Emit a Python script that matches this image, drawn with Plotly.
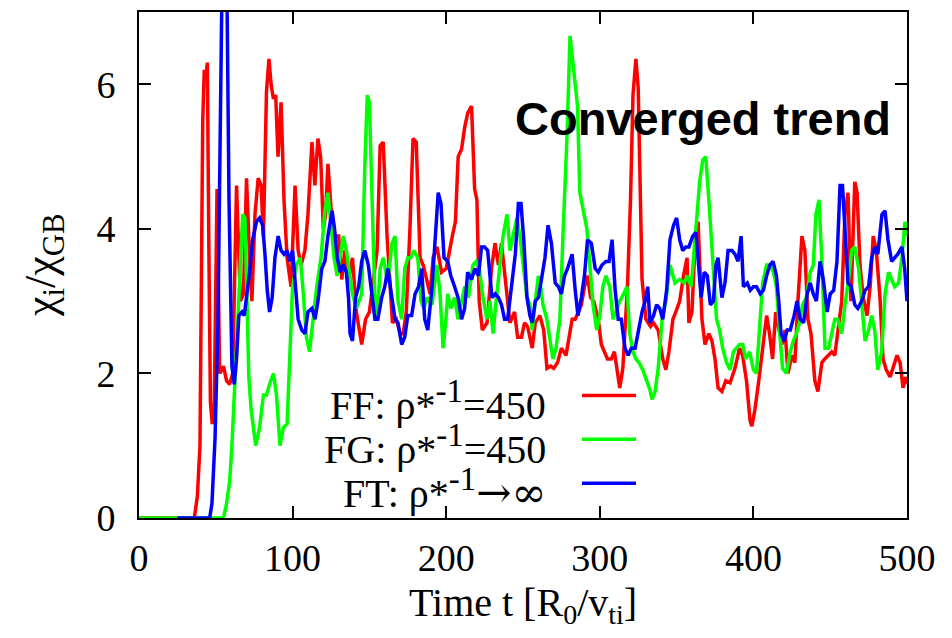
import plotly.graph_objects as go

# ---------------- data ----------------
ff_t = [0, 36, 38, 39.7, 41.5, 42.5, 43.5, 44.5, 45.5, 46.5, 47.7, 49, 50.8, 52.5, 55, 57, 59, 61, 63.5, 66, 68, 70,
        72, 73.5, 75.5, 77.6, 79.5, 81, 83, 84.6, 86, 87.5, 89, 90.5, 92.5, 94.4, 96.4, 99, 101.6, 103.6, 105.5, 108,
        110, 112.6, 114.5, 116.5, 118.3, 120, 121.5, 123, 125, 127.6, 130, 132, 134, 136.5, 139, 141.5, 145, 147.5,
        150, 152.5, 155, 157, 159, 161.5, 165, 167.5, 170, 172, 174, 176.4, 178.4, 180.5, 183, 185, 187.5, 189.5,
        191.5, 194, 197, 200, 204, 206, 207.8, 210, 212, 214, 216.5, 218.5, 220, 221.5, 223.5, 226.6, 229.5, 231.8,
        234, 236, 238, 241.5, 244.5, 246.5, 249, 251, 253, 256, 258, 261, 263.5, 265.6, 268, 270, 272.5, 275, 278,
        282, 284, 286, 288, 290, 292, 294, 296, 299, 301, 303, 305, 307.5, 309.5, 313, 315, 318, 320, 321.6, 323.5,
        325, 326, 327.5, 330, 333, 335, 338, 341, 343, 345, 347.6, 349.5, 352, 354.5, 356.8, 358, 360, 362, 364,
        366.5, 368.5, 371, 373, 375, 377, 379.5, 382, 384.8, 388, 391, 393, 395.5, 397.8, 399, 401, 403.5, 406,
        408.6, 410.5, 412.5, 414.5, 416.5, 418.5, 420.6, 422.5, 425, 427, 429, 431.6, 433.5, 435.5, 437.5, 440, 442,
        444.6, 446.5, 449, 451, 453, 455, 457.5, 459.6, 461.6, 463.5, 466, 467.5, 469.4, 471.5, 474, 476, 478, 480,
        482.4, 484.4, 486.5, 489, 491, 493.5, 495.5, 497.4, 499, 500]
ff_v = [0, 0, 0.3, 1.0, 5.5, 6.2, 6.1, 6.3, 3.7, 1.6, 1.3, 1.6, 4.55, 2.0, 2.1, 1.9, 1.85, 2.0, 4.6, 3.0, 3.1, 4.7,
        3.6, 3.0, 4.2, 4.7, 4.6, 3.9, 5.9, 6.35, 6.0, 5.8, 5.85, 5.0, 5.75, 4.4, 3.6, 3.2, 4.6, 3.7, 3.5, 3.7,
        4.2, 5.2, 4.6, 5.25, 4.98, 4.0, 4.2, 4.9, 4.3, 3.9, 3.9, 3.3, 3.7, 3.3, 3.6, 2.85, 2.4, 2.75,
        2.85, 3.3, 3.7, 5.15, 5.2, 3.9, 2.7, 2.75, 2.55, 2.55, 2.85, 4.0, 5.25, 5.2, 3.6, 3.5, 3.3, 3.1,
        3.6, 3.75, 3.4, 3.45, 3.9, 4.1, 5.0, 5.1, 5.4, 5.6, 5.7, 4.55, 4.4, 3.0, 2.6, 2.7, 3.45, 3.8,
        3.5, 3.8, 3.4, 2.7, 2.85, 2.5, 2.5, 2.7, 2.65, 2.35, 2.7, 2.8, 2.6, 2.07, 2.1, 2.07, 2.15, 2.35, 2.25,
        2.75, 2.75, 2.85, 2.95, 3.2, 3.35, 3.05, 3.0, 2.75, 2.4, 2.3, 2.2, 2.2, 2.3, 1.8, 2.07, 3.2, 4.4, 5.85, 6.35,
        5.95, 4.8, 3.3, 2.75, 2.65, 2.7, 2.6, 2.2, 2.05, 2.3, 2.75, 2.85, 3.0, 3.35, 3.6, 2.7, 2.85, 3.8, 4.1,
        2.75, 2.4, 2.55, 2.45, 2.2, 1.8, 1.75, 1.9, 1.87, 2.07, 2.35, 2.25, 1.9, 1.35, 1.27, 1.5, 1.9, 2.35,
        2.8, 2.55, 2.2, 2.85, 2.6, 2.4, 2.6, 2.0, 2.25, 2.15, 3.0, 3.9, 3.7, 2.75, 2.55, 1.9, 1.75,
        2.15, 2.2, 2.25, 2.3, 2.25, 2.55, 3.0, 4.2, 4.5, 3.0, 4.65, 4.5, 3.5, 3.05, 2.8, 3.2, 3.9, 3.7,
        3.05, 2.2, 2.05, 1.95, 2.1, 2.25, 2.15, 1.8, 1.95, 1.85]

fg_t = [0, 55, 57, 59, 60.5, 62.5, 64.5, 66, 67.5, 69, 70, 71.5, 73, 75, 76, 78.5, 81, 83, 85, 87.6, 89.5, 91.8, 94,
        96.4, 98, 100, 102.5, 105, 107, 109, 111, 113, 115.7, 118.5, 121, 123, 125, 127, 129, 131, 133, 135, 137,
        139, 141.5, 145, 147, 148.6, 150, 152, 153.5, 155, 157, 159, 162, 164.7, 166.7, 168.6, 171, 173, 175, 177,
        179, 181.5, 183.6, 185.5, 187.5, 190.8, 194, 196, 198, 200, 201, 203, 205.5, 207.7, 210, 212, 214.5, 217.4,
        219.5, 221.5, 224, 226.5, 228.5, 230.5, 232.5, 235, 237, 239.6, 241.5, 243.5, 246, 248, 250, 252.6, 254.5,
        256, 258, 260, 261.5, 263, 265.5, 267.6, 269.5, 271.5, 274, 276, 278.6, 280.6, 282, 284, 285.5, 287, 289,
        291.6, 293.5, 295.6, 298, 300, 302, 304, 306.5, 308.6, 310.5, 313, 315.5, 317.7, 319.5, 321.6, 323.5, 325.5,
        328, 330.5, 332.7, 334, 336, 338, 340.6, 343, 345.7, 349, 352, 355, 357, 359.5, 362, 365, 367, 369, 371,
        373.7, 376, 378, 380, 382.5, 384.8, 387, 389, 391, 393, 395, 397.5, 400, 402, 404, 406, 408.6, 411, 413,
        415, 417, 419, 421.5, 424, 426, 428, 430, 432, 434.5, 437, 439, 440.7, 442.7, 444.7, 446.6, 449, 451, 453,
        455, 457.5, 459.6, 462, 464, 466, 468.5, 470.7, 472.7, 475, 477, 479, 481, 483.5, 485.7, 488, 490, 492,
        494.5, 496.7, 498.7, 500]
fg_v = [0, 0, 0.2, 0.5, 1.0, 2.0, 2.8, 3.5, 4.2, 4.15, 3.3, 1.95, 1.5, 1.2, 1.0, 1.25, 1.7, 1.7, 1.85, 2.0, 1.7, 1.0, 1.25,
        1.3, 2.05, 3.2, 3.5, 3.6, 3.1, 2.5, 2.3, 2.7, 3.2, 3.6, 4.25, 4.5, 4.1, 3.6, 3.35, 3.6, 3.9, 3.7, 3.35,
        3.1, 2.9, 3.1, 4.85, 5.85, 5.75, 4.4, 3.1, 2.75, 3.45, 3.6, 3.25, 3.8, 3.9, 3.0, 2.75, 3.45, 3.6, 3.6,
        3.7, 3.6, 3.0, 2.9, 3.05, 2.95, 3.5, 3.1, 2.35, 2.8, 3.1, 2.9, 3.05, 2.75, 3.0, 3.2, 3.05, 3.5,
        3.55, 3.45, 3.05, 2.75, 3.0, 2.55, 3.0, 3.5, 3.9, 4.2, 3.7, 3.9, 4.15, 3.9, 3.5, 3.05, 2.95,
        2.6, 3.0, 3.35, 3.2, 2.95, 2.75, 2.45, 2.2, 2.35, 2.75, 3.9, 5.25, 6.67, 6.4, 6.1, 5.7, 4.5, 4.3,
        4.0, 3.5, 2.95, 2.6, 2.8, 3.2, 3.35, 3.2, 2.75, 2.85, 3.0, 3.1, 3.2, 2.55, 2.3, 2.2, 2.15,
        2.05, 1.9, 1.77, 1.64, 1.75, 2.07, 2.75, 3.0, 3.5, 3.25, 3.3, 3.25, 3.35, 3.2, 3.85, 4.65, 4.95, 5.0, 4.4,
        3.4, 2.75, 2.6, 2.35, 2.15, 2.05, 2.3, 2.35, 2.4, 2.4, 2.2, 2.3, 2.05, 2.0, 2.55, 3.25, 3.5, 3.5, 3.4,
        3.2, 2.6, 2.07, 2.0, 2.3, 2.45, 2.55, 2.7, 2.95, 3.05, 3.4, 3.5, 4.2, 4.4, 3.5, 2.35, 2.35, 2.55, 2.75,
        2.75, 2.55, 2.95, 3.3, 3.7, 3.75, 3.45, 2.95, 2.45, 2.6, 2.8, 2.6, 2.05, 2.3, 3.1, 3.4, 3.3, 3.2,
        3.25, 3.6, 4.1, 3.9]

ft_t = [25, 46, 47.5, 49.5, 51.4, 52.7, 54, 55.5, 57.3, 58.6, 60.5, 62, 63.5, 65, 67, 68.5, 70, 72, 74, 76.5, 78.5,
        80.5, 82, 83.5, 85, 86.7, 88.5, 90.6, 92.5, 94.4, 96.4, 98, 100, 101.6, 103.6, 106, 108, 110, 112.6, 114.6,
        116.5, 119, 121, 123, 125.7, 127.3, 129, 131, 133, 135, 136.4, 137.4, 139, 141, 143, 145, 147, 149.3, 151.7,
        153.6, 155.5, 158, 160, 162, 164.3, 166.7, 168.6, 171, 173, 175, 177.5, 179.7, 182, 184, 186, 188, 190.8,
        192.7, 194.8, 196.6, 198.6, 201, 203, 205.5, 207.7, 210, 212, 214, 216.5, 218.7, 221, 223, 225, 227, 229.8,
        232, 234, 236, 238, 240, 242.5, 245, 247, 248.7, 250.5, 252.6, 254.5, 256, 258, 260, 262, 264.3, 266.3,
        268.5, 271, 273, 275, 277, 279, 282, 284, 285.8, 288, 290, 292, 294.5, 297, 299, 301.4, 304, 306, 308, 310,
        312, 314, 316.4, 318.5, 320.5, 323, 325, 327.5, 329.5, 331.2, 332.7, 335, 337, 339, 341, 343.5, 345.7, 348,
        350, 352, 354, 356, 358, 360.5, 362.6, 364, 366, 368, 370, 372, 374, 375.6, 377, 379.5, 381.5, 383.5, 386,
        388, 390, 392, 393.5, 396, 398, 400, 402, 404.5, 406.5, 408.6, 410.7, 412.8, 415, 416.5, 418, 420, 422,
        424, 426.5, 428.4, 430.5, 432.7, 435, 437, 439, 441, 443.4, 445.5, 448, 450, 452.3, 454.4, 456.4, 458,
        459.6, 461.6, 463.7, 466, 468, 470.5, 472.7, 475, 477, 479, 481, 483.7, 485.7, 487.6, 490, 492, 494,
        496.7, 498.5, 500]
ft_v = [0, 0, 0.2, 1.1, 2.7, 5.0, 7.3, 8.5, 7.2, 4.4, 2.1, 1.85, 2.2, 2.8, 2.85, 2.8, 3.05, 3.4, 3.85, 4.1, 4.15,
        4.05, 3.65, 3.15, 2.85, 3.05, 3.6, 3.9, 3.7, 3.65, 3.7, 3.55, 3.7, 3.2, 2.75, 2.6, 2.55, 2.85, 2.9, 2.75,
        3.0, 3.45, 3.55, 3.9, 4.25, 4.0, 3.6, 3.4, 3.5, 3.4, 3.05, 2.55, 2.45, 3.05, 3.2, 3.55, 3.7, 3.5, 3.05,
        2.75, 2.75, 3.05, 3.2, 3.45, 3.1, 2.75, 2.7, 2.4, 2.5, 2.8, 2.8, 3.1, 3.2, 3.45, 2.75, 2.6, 3.2,
        3.85, 4.5, 4.35, 3.6, 3.55, 3.35, 3.2, 3.05, 2.75, 2.9, 3.4, 3.3, 3.45, 3.35, 3.75, 3.75, 3.7, 3.05,
        3.1, 3.05, 2.95, 2.75, 2.75, 3.2, 3.65, 4.35, 4.35, 3.85, 3.05, 2.8, 2.7, 3.0, 3.05, 3.3, 3.6, 4.05,
        3.8, 3.25, 3.2, 3.1, 3.35, 3.45, 3.65, 3.15, 2.8, 3.05, 3.35, 3.85, 3.8, 3.45, 3.4, 3.5, 3.55, 3.55, 3.85, 3.15,
        2.75, 2.75, 2.35, 2.25, 2.35, 2.35, 2.6, 2.85, 3.0, 3.2, 2.7, 2.8, 2.95, 2.9, 2.75, 3.15, 3.85, 4.05,
        4.15, 3.85, 3.7, 3.75, 3.75, 3.9, 3.95, 3.6, 3.05, 3.4, 3.35, 2.95, 3.0, 3.5, 3.6, 3.05, 3.25, 3.7, 3.7,
        3.65, 3.55, 3.9, 3.2, 3.25, 3.15, 3.2, 3.2, 3.1, 3.15, 3.35, 3.5, 3.55, 3.35, 3.0, 2.55, 2.45, 2.6,
        2.6, 2.8, 3.0, 2.75, 2.7, 3.1, 3.25, 3.1, 3.0, 3.55, 3.3, 2.85, 3.1, 3.15, 3.55, 4.6, 4.6,
        3.9, 3.25, 3.2, 2.95, 2.9, 3.0, 3.15, 3.2, 3.6, 3.75, 3.65, 4.2, 4.25, 3.85, 3.55, 3.6, 3.65,
        3.75, 3.45, 3.0]

x_ticks = [0, 100, 200, 300, 400, 500]
y_ticks = [0, 2, 4, 6]

SUP = '<sup><span style="font-size:33px">-1</span></sup>'
ARROW = '<span style="font-family:DejaVu Serif;font-size:42px">→∞</span>'
series = [
    ("FF: ρ*" + SUP + "=450", ff_t, ff_v, "#ff0000"),
    ("FG: ρ*" + SUP + "=450", fg_t, fg_v, "#00ff00"),
    ("FT: ρ*" + SUP + ARROW, ft_t, ft_v, "#0000ff"),
]

SERIF = "Liberation Serif, Times New Roman, serif"

fig = go.Figure()
for name, t, v, c in series:
    fig.add_trace(go.Scatter(x=t, y=v, mode="lines", name=name,
                             line=dict(color=c, width=3.5), showlegend=False))

# manual legend (text, then the line sample on its right)
leg_y = [0.232, 0.146, 0.058]
line_y = [0.242, 0.1555, 0.0689]
for (name, t, v, c), ty, ly in zip(series, leg_y, line_y):
    fig.add_annotation(text=name, xref="paper", yref="paper", x=0.5326, y=ty,
                       xanchor="right", yanchor="middle", showarrow=False,
                       font=dict(family=SERIF, size=40, color="black"))
    fig.add_shape(type="line", xref="paper", yref="paper", x0=0.5768, x1=0.6471,
                  y0=ly, y1=ly, line=dict(color=c, width=3.5))

fig.add_annotation(text="<b>Converged trend</b>", xref="paper", yref="paper",
                   x=0.734, y=0.79, xanchor="center", yanchor="middle", showarrow=False,
                   font=dict(family="Liberation Sans, Arial, sans-serif", size=47, color="black"))

fig.add_annotation(text="Time t [R<sub>0</sub>/v<sub>ti</sub>]", xref="paper", yref="paper",
                   x=0.5, y=-0.172, xanchor="center", yanchor="middle", showarrow=False,
                   font=dict(family=SERIF, size=40, color="black"))
fig.add_annotation(text="χ<sub>i</sub>/χ<sub>GB</sub>", xref="paper", yref="paper",
                   x=-0.125, y=0.5, xanchor="center", yanchor="middle", showarrow=False,
                   textangle=-90, font=dict(family=SERIF, size=44, color="black"))

axis_common = dict(showgrid=False, zeroline=False, showline=True, linecolor="black", linewidth=2,
                   mirror="allticks", ticks="inside", ticklen=12, tickwidth=2, tickcolor="black",
                   tickfont=dict(family=SERIF, size=38, color="black"))
fig.update_xaxes(range=[0, 500], tickvals=x_ticks, ticktext=[str(x) for x in x_ticks],
                 ticklabelstandoff=5, **axis_common)
fig.update_yaxes(range=[0, 7], tickvals=y_ticks, ticktext=[str(y) for y in y_ticks],
                 ticklabelstandoff=14, **axis_common)

fig.update_layout(width=952, height=638, margin=dict(l=139, r=45, t=10, b=120),
                  paper_bgcolor="white", plot_bgcolor="white", showlegend=False)

fig.write_html("out.html")
